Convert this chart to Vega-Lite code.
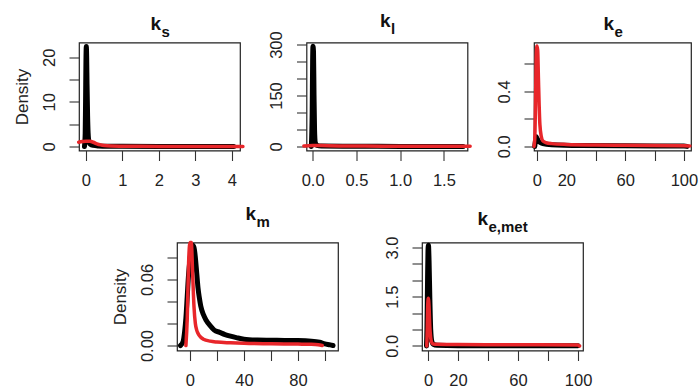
{
  "$schema": "https://vega.github.io/schema/vega-lite/v6.json",
  "background": "white",
  "padding": {"left": 12, "top": 11.5, "right": 0, "bottom": 0},
  "config": {
    "view": {"stroke": "#222", "strokeWidth": 1.2},
    "axis": {"domain": false, "grid": false, "tickColor": "#333", "tickSize": 10, "tickWidth": 1.1,
      "labelFont": "Liberation Sans", "labelFontSize": 16.5, "labelColor": "#222", "labelOverlap": false, "labelFlush": false,
      "titleFont": "Liberation Sans", "titleFontSize": 17, "titleFontWeight": "normal", "titleColor": "#222"},
    "axisX": {"labelPadding": 12, "labelBaseline": "top"},
    "axisY": {"labelAngle": -90, "labelAlign": "center", "labelBaseline": "alphabetic", "labelPadding": 15, "titlePadding": 10},
    "title": {"font": "Liberation Sans", "fontSize": 19, "fontWeight": "bold", "color": "#111", "offset": 3, "anchor": "middle",
      "subtitleFont": "Liberation Sans", "subtitleFontSize": 15, "subtitleFontWeight": "bold", "subtitleColor": "#111", "subtitlePadding": -9},
    "line": {"strokeCap": "round", "strokeJoin": "round", "interpolate": "monotone", "clip": true}
  },
  "datasets": {
    "ks": [
      {"s":"b","x":-0.04,"y":0},{"s":"b","x":-0.02,"y":3},{"s":"b","x":-0.01,"y":10},{"s":"b","x":0.0,"y":19},{"s":"b","x":0.01,"y":22.4},{"s":"b","x":0.02,"y":20},{"s":"b","x":0.03,"y":14},{"s":"b","x":0.045,"y":7},{"s":"b","x":0.06,"y":3},{"s":"b","x":0.08,"y":1.2},{"s":"b","x":0.12,"y":0.5},{"s":"b","x":0.2,"y":0.25},{"s":"b","x":0.35,"y":0.12},{"s":"b","x":0.6,"y":0.05},{"s":"b","x":1,"y":0.03},{"s":"b","x":2,"y":0.01},{"s":"b","x":3,"y":0.005},{"s":"b","x":4.05,"y":0.002},
      {"s":"r","x":-0.2,"y":0.95},{"s":"r","x":-0.1,"y":1.1},{"s":"r","x":0,"y":1.2},{"s":"r","x":0.1,"y":1.15},{"s":"r","x":0.2,"y":0.95},{"s":"r","x":0.3,"y":0.6},{"s":"r","x":0.4,"y":0.35},{"s":"r","x":0.5,"y":0.2},{"s":"r","x":0.7,"y":0.1},{"s":"r","x":1,"y":0.06},{"s":"r","x":1.5,"y":0.03},{"s":"r","x":2,"y":0.02},{"s":"r","x":3,"y":0.01},{"s":"r","x":4,"y":0.005},{"s":"r","x":4.3,"y":0.003}
    ],
    "kl": [
      {"s":"b","x":-0.015,"y":0},{"s":"b","x":-0.005,"y":100},{"s":"b","x":0.0,"y":250},{"s":"b","x":0.004,"y":295},{"s":"b","x":0.01,"y":280},{"s":"b","x":0.016,"y":150},{"s":"b","x":0.022,"y":50},{"s":"b","x":0.03,"y":12},{"s":"b","x":0.05,"y":3},{"s":"b","x":0.1,"y":1},{"s":"b","x":0.5,"y":0.3},{"s":"b","x":1,"y":0.1},{"s":"b","x":1.72,"y":0.05},
      {"s":"r","x":-0.1,"y":1.5},{"s":"r","x":0,"y":3},{"s":"r","x":0.1,"y":2.5},{"s":"r","x":0.3,"y":1.5},{"s":"r","x":0.6,"y":1},{"s":"r","x":1,"y":0.8},{"s":"r","x":1.5,"y":0.5},{"s":"r","x":1.8,"y":0.4}
    ],
    "ke": [
      {"s":"b","x":-1.5,"y":0},{"s":"b","x":-1,"y":0.04},{"s":"b","x":-0.5,"y":0.07},{"s":"b","x":0,"y":0.06},{"s":"b","x":1,"y":0.04},{"s":"b","x":2,"y":0.03},{"s":"b","x":4,"y":0.02},{"s":"b","x":10,"y":0.012},{"s":"b","x":30,"y":0.006},{"s":"b","x":60,"y":0.004},{"s":"b","x":100,"y":0.003},{"s":"b","x":102,"y":0},
      {"s":"r","x":-2,"y":0},{"s":"r","x":-1.5,"y":0.05},{"s":"r","x":-1,"y":0.3},{"s":"r","x":-0.5,"y":0.65},{"s":"r","x":0,"y":0.73},{"s":"r","x":0.5,"y":0.7},{"s":"r","x":1,"y":0.5},{"s":"r","x":1.5,"y":0.3},{"s":"r","x":2,"y":0.16},{"s":"r","x":3,"y":0.07},{"s":"r","x":4,"y":0.04},{"s":"r","x":6,"y":0.028},{"s":"r","x":10,"y":0.02},{"s":"r","x":20,"y":0.014},{"s":"r","x":40,"y":0.01},{"s":"r","x":60,"y":0.008},{"s":"r","x":80,"y":0.006},{"s":"r","x":100,"y":0.004},{"s":"r","x":104,"y":0.003}
    ],
    "km": [
      {"s":"b","x":-7,"y":0},{"s":"b","x":-5,"y":0.004},{"s":"b","x":-4,"y":0.012},{"s":"b","x":-3,"y":0.025},{"s":"b","x":-2,"y":0.045},{"s":"b","x":-1,"y":0.065},{"s":"b","x":0,"y":0.078},{"s":"b","x":1,"y":0.087},{"s":"b","x":2,"y":0.091},{"s":"b","x":3,"y":0.089},{"s":"b","x":4,"y":0.08},{"s":"b","x":5,"y":0.066},{"s":"b","x":6,"y":0.052},{"s":"b","x":7,"y":0.043},{"s":"b","x":8,"y":0.036},{"s":"b","x":10,"y":0.028},{"s":"b","x":12,"y":0.023},{"s":"b","x":15,"y":0.018},{"s":"b","x":18,"y":0.014},{"s":"b","x":22,"y":0.012},{"s":"b","x":26,"y":0.01},{"s":"b","x":30,"y":0.0085},{"s":"b","x":35,"y":0.007},{"s":"b","x":40,"y":0.0058},{"s":"b","x":50,"y":0.005},{"s":"b","x":60,"y":0.0048},{"s":"b","x":70,"y":0.0046},{"s":"b","x":80,"y":0.0045},{"s":"b","x":90,"y":0.004},{"s":"b","x":96,"y":0.003},{"s":"b","x":100,"y":0.0015},{"s":"b","x":104,"y":0.0006},{"s":"b","x":106,"y":0},
      {"s":"r","x":-3,"y":0},{"s":"r","x":-2,"y":0.025},{"s":"r","x":-1,"y":0.075},{"s":"r","x":0,"y":0.11},{"s":"r","x":1,"y":0.1},{"s":"r","x":2,"y":0.065},{"s":"r","x":3,"y":0.035},{"s":"r","x":4,"y":0.02},{"s":"r","x":5,"y":0.014},{"s":"r","x":6,"y":0.011},{"s":"r","x":8,"y":0.0075},{"s":"r","x":10,"y":0.0058},{"s":"r","x":15,"y":0.004},{"s":"r","x":20,"y":0.0032},{"s":"r","x":30,"y":0.0025},{"s":"r","x":40,"y":0.002},{"s":"r","x":60,"y":0.0016},{"s":"r","x":80,"y":0.0013},{"s":"r","x":90,"y":0.0011},{"s":"r","x":95,"y":0.0007},{"s":"r","x":98,"y":0}
    ],
    "kem": [
      {"s":"b","x":-1,"y":0},{"s":"b","x":-0.7,"y":0.5},{"s":"b","x":-0.3,"y":2.0},{"s":"b","x":0,"y":2.9},{"s":"b","x":0.3,"y":3.07},{"s":"b","x":0.7,"y":2.6},{"s":"b","x":1.2,"y":1.5},{"s":"b","x":1.8,"y":0.5},{"s":"b","x":2.5,"y":0.15},{"s":"b","x":3.5,"y":0.05},{"s":"b","x":6,"y":0.02},{"s":"b","x":20,"y":0.008},{"s":"b","x":60,"y":0.004},{"s":"b","x":100,"y":0.002},
      {"s":"r","x":-0.8,"y":0},{"s":"r","x":-0.5,"y":0.5},{"s":"r","x":-0.2,"y":1.2},{"s":"r","x":0.2,"y":1.45},{"s":"r","x":0.7,"y":1.2},{"s":"r","x":1.2,"y":0.6},{"s":"r","x":1.8,"y":0.25},{"s":"r","x":2.5,"y":0.1},{"s":"r","x":3.5,"y":0.06},{"s":"r","x":6,"y":0.05},{"s":"r","x":20,"y":0.04},{"s":"r","x":60,"y":0.035},{"s":"r","x":100,"y":0.03},{"s":"r","x":101,"y":0}
    ],
    "blank": [{"x": 0}]
  },
  "vconcat": [
    {
      "hconcat": [
        {
          "width": 161, "height": 108,
          "title": {"text": "k", "subtitle": "\u2800s", "align": "left", "dx": -9, "offset": 3},
          "data": {"name": "ks"},
          "encoding": {
            "x": {"field": "x", "type": "quantitative", "scale": {"domain": [-0.19, 4.22], "nice": false, "zero": false},
              "axis": {"title": null, "values": [0, 1, 2, 3, 4]}},
            "y": {"field": "y", "type": "quantitative", "scale": {"domain": [-0.9, 23.3], "nice": false, "zero": false},
              "axis": {"title": "Density", "values": [0, 5, 10, 15, 20], "labelExpr": "datum.value == 0 || datum.value == 10 || datum.value == 20 ? datum.label : ''"}}
          },
          "layer": [
            {"transform": [{"filter": "datum.s == 'b'"}], "mark": {"type": "line", "color": "black", "strokeWidth": 5}},
            {"transform": [{"filter": "datum.s == 'r'"}], "mark": {"type": "line", "color": "#e8262a", "strokeWidth": 3.5}}
          ]
        },
        {
          "width": 161, "height": 108,
          "title": {"text": "k", "subtitle": "\u2800l", "align": "left", "dx": -7, "offset": -6.5},
          "data": {"name": "kl"},
          "encoding": {
            "x": {"field": "x", "type": "quantitative", "scale": {"domain": [-0.07, 1.77], "nice": false, "zero": false},
              "axis": {"title": null, "values": [0, 0.5, 1, 1.5], "format": ".1f"}},
            "y": {"field": "y", "type": "quantitative", "scale": {"domain": [-12, 306], "nice": false, "zero": false},
              "axis": {"title": null, "values": [0, 50, 100, 150, 200, 250, 300], "labelExpr": "datum.value == 0 || datum.value == 150 || datum.value == 300 ? datum.label : ''"}}
          },
          "layer": [
            {"transform": [{"filter": "datum.s == 'b'"}], "mark": {"type": "line", "color": "black", "strokeWidth": 5}},
            {"transform": [{"filter": "datum.s == 'r'"}], "mark": {"type": "line", "color": "#e8262a", "strokeWidth": 3.5}}
          ]
        },
        {
          "width": 157, "height": 108,
          "title": {"text": "k", "subtitle": "\u2800e", "align": "left", "dx": -9, "offset": 3},
          "data": {"name": "ke"},
          "encoding": {
            "x": {"field": "x", "type": "quantitative", "scale": {"domain": [-2, 104.8], "nice": false, "zero": false},
              "axis": {"title": null, "values": [0, 20, 40, 60, 80, 100], "labelExpr": "datum.value == 40 || datum.value == 80 ? '' : datum.label"}},
            "y": {"field": "y", "type": "quantitative", "scale": {"domain": [-0.03, 0.756], "nice": false, "zero": false},
              "axis": {"title": null, "values": [0, 0.2, 0.4, 0.6], "format": ".1f", "labelExpr": "datum.value == 0 || datum.value == 0.4 ? datum.label : ''"}}
          },
          "layer": [
            {"transform": [{"filter": "datum.s == 'b'"}], "mark": {"type": "line", "color": "black", "strokeWidth": 5}},
            {"transform": [{"filter": "datum.s == 'r'"}], "mark": {"type": "line", "color": "#e8262a", "strokeWidth": 3.5}}
          ]
        }
      ],
      "spacing": 66.5,
      "bounds": "flush"
    },
    {
      "hconcat": [
        {"width": 14, "height": 108, "view": {"stroke": null}, "data": {"name": "blank"}, "mark": {"type": "point", "opacity": 0}, "encoding": {}},
        {
          "width": 161, "height": 108,
          "title": {"text": "k", "subtitle": "\u2800m", "align": "left", "dx": -12, "offset": 11},
          "data": {"name": "km"},
          "encoding": {
            "x": {"field": "x", "type": "quantitative", "scale": {"domain": [-9.6, 109.7], "nice": false, "zero": false},
              "axis": {"title": null, "values": [0, 20, 40, 60, 80, 100], "labelExpr": "datum.value == 0 || datum.value == 40 || datum.value == 80 ? datum.label : ''"}},
            "y": {"field": "y", "type": "quantitative", "scale": {"domain": [-0.0045, 0.0936], "nice": false, "zero": false, "clamp": true},
              "axis": {"title": "Density", "values": [0, 0.02, 0.04, 0.06, 0.08], "format": ".2f", "labelExpr": "datum.value == 0 || datum.value == 0.06 ? datum.label : ''"}}
          },
          "layer": [
            {"transform": [{"filter": "datum.s == 'b'"}], "mark": {"type": "line", "color": "black", "strokeWidth": 5}},
            {"transform": [{"filter": "datum.s == 'r'"}], "mark": {"type": "line", "color": "#e8262a", "strokeWidth": 3.5}}
          ]
        },
        {
          "width": 161, "height": 108,
          "title": {"text": "k", "subtitle": "\u2800e,met", "align": "left", "dx": -25, "offset": 1},
          "data": {"name": "kem"},
          "encoding": {
            "x": {"field": "x", "type": "quantitative", "scale": {"domain": [-4, 103.3], "nice": false, "zero": false},
              "axis": {"title": null, "values": [0, 20, 40, 60, 80, 100], "labelExpr": "datum.value == 40 || datum.value == 80 ? '' : datum.label"}},
            "y": {"field": "y", "type": "quantitative", "scale": {"domain": [-0.14, 3.15], "nice": false, "zero": false},
              "axis": {"title": null, "values": [0, 0.5, 1, 1.5, 2, 2.5, 3], "format": ".1f", "labelExpr": "datum.value == 0 || datum.value == 1.5 || datum.value == 3 ? datum.label : ''"}}
          },
          "layer": [
            {"transform": [{"filter": "datum.s == 'b'"}], "mark": {"type": "line", "color": "black", "strokeWidth": 5}},
            {"transform": [{"filter": "datum.s == 'r'"}], "mark": {"type": "line", "color": "#e8262a", "strokeWidth": 3.5}}
          ]
        }
      ],
      "spacing": 84,
      "bounds": "flush"
    }
  ],
  "spacing": 13
}
